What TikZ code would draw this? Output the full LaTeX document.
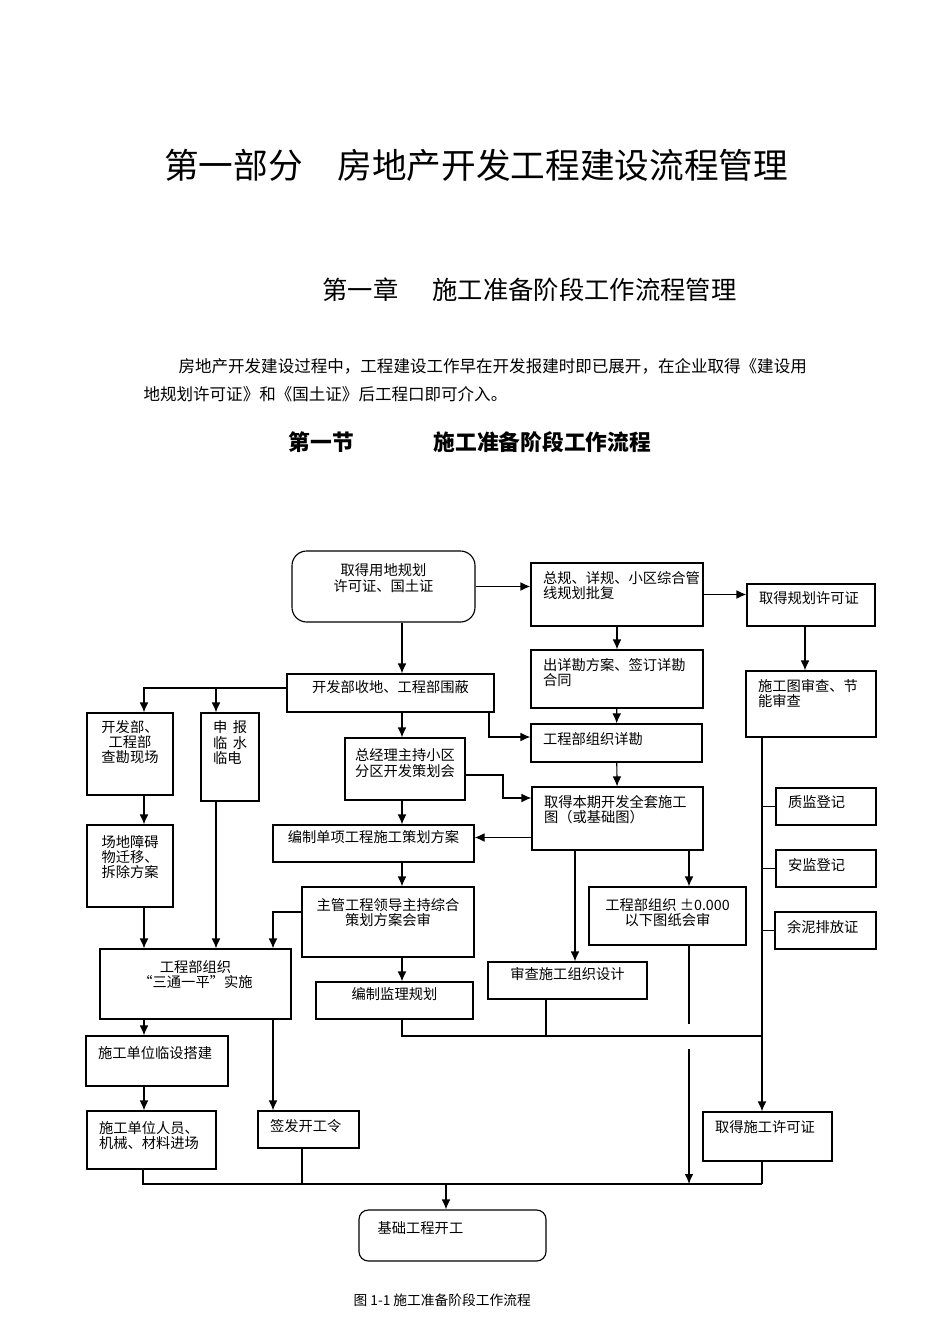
\documentclass[tikz,border=0pt]{standalone}
\usepackage{fontspec}
\usetikzlibrary{fit,arrows.meta}
\newfontfamily\cjk{Noto Sans CJK SC}
\newcommand\bxfont{\cjk\fontsize{10.7pt}{11.3pt}\selectfont}

\begin{document}
    \begin{tikzpicture}[x=0.75pt, y=-0.75pt, line width=0.85pt,
        box/.style={draw, inner sep=0pt, align=center, font=\bxfont},
        rbox/.style={box, rounded corners=11pt},
        tl/.style={anchor=north west, inner sep=0pt, xshift=9pt, yshift=-6pt, align=left, font=\bxfont},
        tc/.style={anchor=north, inner sep=0pt, yshift=-8.25pt, align=center, font=\bxfont},
        arr/.style={-{Latex[length=7.5pt,width=6.5pt]}}]
        \useasboundingbox (0,0) rectangle (950,1344); % pagina intera

        % titoli e testo
        \node[font=\cjk\fontsize{26pt}{30pt}\selectfont] (ttl) at (476,165) {第一部分　房地产开发工程建设流程管理};
        \node[anchor=west, inner sep=0pt, font=\cjk\fontsize{19pt}{22pt}\selectfont] (chap) at (322,290) {第一章\hspace{25.5pt}施工准备阶段工作流程管理};
        \node[anchor=west, inner sep=0pt, font=\cjk\fontsize{12.4pt}{15pt}\selectfont] (par1) at (178,366) {房地产开发建设过程中，工程建设工作早在开发报建时即已展开，在企业取得《建设用};
        \node[anchor=west, inner sep=0pt, font=\cjk\fontsize{12.4pt}{15pt}\selectfont] (par2) at (143,394) {地规划许可证》和《国土证》后工程口即可介入。};
        \node[anchor=west, inner sep=0pt, font=\cjk\bfseries\fontsize{16.3pt}{19pt}\selectfont] (sec) at (288,442) {第一节\hspace{60pt}施工准备阶段工作流程};

        % riquadri
        \node[rbox, fit={(292,551) (475,622)}, label={[tc,yshift=-1.5pt]north:{取得用地规划\\许可证、国土证}}] (qd) {};
        \node[box, fit={(531,563) (703,626)}, label={[tl]north west:{总规、详规、小区综合管\\线规划批复}}] (zg) {};
        \node[box, fit={(747,584) (875,626)}, label={[tl]north west:{取得规划许可证}}] (ghx) {};
        \node[box, fit={(531,650) (703,708)}, label={[tl]north west:{出详勘方案、签订详勘\\合同}}] (xq) {};
        \node[box, fit={(746,671) (876,737)}, label={[tl]north west:{施工图审查、节\\能审查}}] (sgt) {};
        \node[box, fit={(287,674) (494,712)}] (kf) {开发部收地、工程部围蔽};
        \node[box, fit={(87,713) (173,795)}, label={[tc,yshift=3pt]north:{开发部、\\工程部\\查勘现场}}] (kc) {};
        \node[box, fit={(201,713) (259,801)}, label={[tl]north west:{申\hspace{0.4em}报\\临\hspace{0.4em}水\\临电}}] (sb) {};
        \node[box, fit={(87,825) (173,907)}, label={[tl,xshift=2pt,yshift=-2pt]north west:{场地障碍\\物迁移、\\拆除方案}}] (cd) {};
        \node[box, fit={(345,738) (465,800)}, label={[tc]north:{总经理主持小区\\分区开发策划会}}] (zjl) {};
        \node[box, fit={(531,724) (702,762)}, label={[tl]north west:{工程部组织详勘}}] (kc2) {};
        \node[box, fit={(532,787) (703,850)}, label={[tl]north west:{取得本期开发全套施工\\图（或基础图）}}] (qt) {};
        \node[box, fit={(273,825) (474,862)}] (bz) {编制单项工程施工策划方案};
        \node[box, fit={(302,887) (474,957)}, label={[tc]north:{主管工程领导主持综合\\策划方案会审}}] (zg2) {};
        \node[box, fit={(100,949) (291,1019)}, label={[tc]north:{工程部组织\\“三通一平”实施}}] (stp) {};
        \node[box, fit={(316,982) (473,1019)}] (jl) {编制监理规划};
        \node[box, fit={(488,962) (647,999)}] (sc) {审查施工组织设计};
        \node[box, fit={(589,887) (746,945)}, label={[tc]north:{工程部组织 ±0.000\\以下图纸会审}}] (hs) {};
        \node[box, fit={(776,788) (876,825)}, label={[tl]north west:{质监登记}}] (zj) {};
        \node[box, fit={(776,850) (876,887)}, label={[tl]north west:{安监登记}}] (aj) {};
        \node[box, fit={(775,912) (876,949)}, label={[tl]north west:{余泥排放证}}] (yn) {};
        \node[box, fit={(703,1112) (832,1161)}, label={[tl]north west:{取得施工许可证}}] (xk) {};
        \node[box, fit={(86,1036) (228,1086)}, label={[tl,yshift=-2pt]north west:{施工单位临设搭建}}] (lsj) {};
        \node[box, fit={(87,1111) (216,1169)}, label={[tl,yshift=-2pt]north west:{施工单位人员、\\机械、材料进场}}] (ry) {};
        \node[box, fit={(258,1111) (359,1148)}, label={[tl]north west:{签发开工令}}] (qfk) {};
        \node[rbox, rounded corners=7pt, fit={(359,1210) (546,1261)}, label={[tl,xshift=5pt,yshift=-3pt]north west:{基础工程开工}}] (jc) {};
        \node[anchor=west, inner sep=0pt, font=\cjk\fontsize{10.3pt}{12pt}\selectfont] (cap) at (353,1300) {图 1-1 施工准备阶段工作流程};

        % colonne dei collegamenti
        \coordinate (colA) at (144,0);
        \coordinate (colB) at (216,0);
        \coordinate (colC) at (273,0);
        \coordinate (colD) at (402,0);
        \coordinate (c302) at (302,0);
        \coordinate (c446) at (446,0);
        \coordinate (c489) at (489,0);
        \coordinate (c503) at (503,798);
        \coordinate (c546) at (546,0);
        \coordinate (c575) at (575,0);
        \coordinate (c762) at (762,0);
        \coordinate (m1) at (762,1036); % linea di raccolta alta
        \coordinate (m3) at (762,1184); % linea di raccolta bassa
        \coordinate (m3l) at (143,1184);
        \coordinate (g1) at (689,1024);
        \coordinate (g2) at (689,1049);
        \coordinate (kfL) at ([yshift=3.75pt]kf.west);
        \coordinate (bzR) at ([yshift=4.5pt]bz.east);

        % frecce
        \draw[arr] (qd.east) -- (qd.east -| zg.west);
        \draw[arr] (zg.east) -- (zg.east -| ghx.west);
        \draw[arr] (zg) -- (xq);
        \draw[arr] ([xshift=-4.5pt]ghx.south) -- ([xshift=-4.5pt]sgt.north);
        \draw[arr] (xq) -- (kc2);
        \draw[arr] (kc2) -- (qt);
        \draw[arr] (qd.south -| colD) -- (kf.north -| colD);
        \draw[arr] (kfL) -| (kc.north -| colA);
        \draw[arr] (kfL -| colB) -- (sb.north -| colB);
        \draw[arr] (kf.south -| c489) |- ([yshift=4.5pt]kc2.west);
        \draw[arr] ([yshift=-4.5pt]zjl.east) -| (c503) -- (c503 -| qt.west);
        \draw[arr] (qt.west |- bzR) -- (bzR);
        \draw[arr] (kf.south -| colD) -- (zjl.north -| colD);
        \draw[arr] (zjl.south -| colD) -- (bz.north -| colD);
        \draw[arr] (bz.south -| colD) -- (zg2.north -| colD);
        \draw[arr] (zg2.south -| colD) -- (jl.north -| colD);
        \draw[arr] (kc.south -| colA) -- (cd.north -| colA);
        \draw[arr] (cd.south -| colA) -- (stp.north -| colA);
        \draw[arr] (sb.south -| colB) -- (stp.north -| colB);
        \draw[arr] ([yshift=7.5pt]zg2.west) -| (stp.north -| colC);
        \draw[arr] (stp.south -| colA) -- (lsj.north -| colA);
        \draw[arr] (lsj.south -| colA) -- (ry.north -| colA);
        \draw[arr] (stp.south -| colC) -- (qfk.north -| colC);
        \draw[arr] (qt.south -| c575) -- (sc.north -| c575);
        \draw[arr] (qt.south -| g1) -- (hs.north -| g1);
        \draw[arr] (sgt.south -| c762) -- (xk.north -| c762);
        \draw (c762 |- zj.west) -- (zj.west);
        \draw (c762 |- aj.west) -- (aj.west);
        \draw (c762 |- yn.west) -- (yn.west);
        \draw (jl.south -| colD) |- (m1);
        \draw (sc.south -| c546) -- (c546 |- m1);
        \draw (hs.south -| g1) -- (g1);
        \draw[arr] (g2) -- (g2 |- m3);
        \draw (ry.south -| m3l) -- (m3l) -- (m3);
        \draw (qfk.south -| c302) -- (c302 |- m3);
        \draw (xk.south -| m3) -- (m3);
        \draw[arr] (c446 |- m3) -- (jc.north -| c446);
    \end{tikzpicture}
\end{document}
